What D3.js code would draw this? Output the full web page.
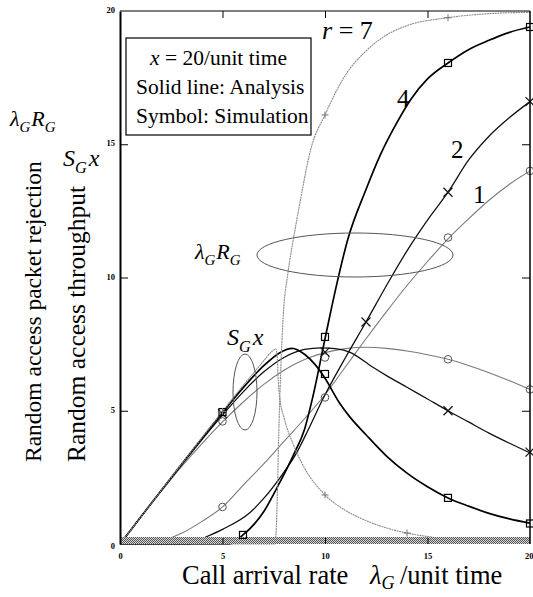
<!DOCTYPE html>
<html><head><meta charset="utf-8">
<script src="https://cdn.jsdelivr.net/npm/d3@7"></script>
<style>
html,body{margin:0;padding:0;background:#fff;}
svg{display:block;}
text{font-family:"Liberation Serif","Times New Roman",serif;fill:#000;}
</style></head>
<body>
<svg id="chart" width="533" height="597"></svg>
<script>
// ---- data (λ_G, value) ----
const lambdaTicks = [0, 5, 10, 15, 20];
const valueTicks = [0, 5, 10, 15, 20];
const rValues = [1, 2, 4, 7];

// throughput S_G x (analysis)
const thrR1 = [[0,0],[1,0.99],[2,1.96],[3,2.9],[4,3.77],[5,4.58],[6,5.32],[7,5.98],[8,6.52],[9,6.92],[10,7.18],[11,7.33],[12,7.38],[13,7.34],[14,7.24],[15,7.1],[16,6.93],[17,6.7],[18,6.43],[19,6.13],[20,5.8]];
const thrR2 = [[0,0],[1,1],[2,1.99],[3,2.96],[4,3.92],[5,4.84],[6,5.7],[7,6.45],[8,7.0],[9,7.3],[9.8,7.36],[10.5,7.33],[11.2,7.2],[12.3,6.65],[13,6.32],[14,5.88],[15,5.44],[16,5.0],[17,4.58],[18,4.16],[19,3.78],[20,3.42]];
const thrR4 = [[0,0],[1,1],[2,2],[3,2.99],[4,3.97],[5,4.93],[6,5.86],[7,6.68],[7.8,7.18],[8.4,7.34],[9,7.12],[9.5,6.75],[10,6.22],[10.7,5.3],[11.2,4.78],[12,4.1],[13,3.3],[14,2.66],[15,2.15],[16,1.73],[17,1.42],[18,1.15],[19,0.94],[20,0.78]];
const thrR7 = [[0,0],[1,1],[2,2],[3,3],[4,3.99],[5,4.97],[6,5.94],[7,6.86],[7.4,7.22],[7.6,7.32],[7.67,7.0],[7.72,6.1],[7.8,5.45],[8,4.75],[8.5,3.65],[9,2.85],[10,1.84],[11,1.26],[12,0.88],[13,0.6],[14,0.41],[15,0.28],[16,0.19],[17,0.12],[18,0.07],[19,0.04],[20,0.02]];

// rejection λ_G R_G (analysis)
const rejR1 = [[0,0],[1.4,0],[2,0.1],[3,0.4],[4,0.85],[5,1.39],[6,2.2],[7,3.0],[8,3.85],[9,4.7],[10,5.6],[11,6.65],[12,7.7],[13,8.72],[14,9.7],[15,10.6],[16,11.45],[17,12.2],[18,12.9],[19,13.5],[20,14.0]];
const rejR2 = [[0,0],[3.4,0],[4,0.2],[5,0.55],[6.3,1.15],[7,1.7],[8,2.7],[8.6,3.4],[9,4.0],[10,5.6],[11,7.0],[12,8.33],[13,9.7],[14,11.0],[15,12.15],[16,13.2],[17,14.4],[18,15.3],[19,16.0],[20,16.6]];
const rejR4 = [[0,0],[5.3,0],[6,0.34],[7,1.2],[7.65,2.1],[8.5,3.4],[9,4.3],[9.4,5.5],[10,7.7],[10.5,9.5],[11.1,11.4],[12,13.3],[12.7,14.6],[13.5,15.8],[14.2,16.7],[15,17.45],[16,18.05],[17,18.55],[18,18.9],[19,19.2],[20,19.4]];
const rejR7 = [[0,0],[7.55,0],[7.62,0.5],[7.68,2.0],[7.74,4.0],[7.84,6.5],[7.95,8.4],[8.2,10.2],[8.45,11.4],[8.8,12.9],[9.3,14.8],[10,16.1],[11,17.6],[12,18.5],[13,19.1],[14,19.45],[16,19.75],[18,19.9],[20,19.95]];

// simulation points
const simThrR1 = [[5,4.6],[10,7.0],[16,6.93],[20,5.8]];
const simRejR1 = [[5,1.39],[10,5.5],[16,11.5],[20,14.0]];
const simThrR2 = [[5,4.88],[10,7.2],[16,5.0],[20,3.45]];
const simRejR2 = [[12,8.33],[16,13.2],[20,16.6]];
const simThrR4 = [[5,4.95],[10,6.38],[16,1.73],[20,0.77]];
const simRejR4 = [[6,0.34],[10,7.77],[16,18.05],[20,19.4]];
const simThrR7 = [[5,4.98],[10,1.84],[14,0.41]];
const simRejR7 = [[10,16.1],[16,19.75]];

// ---- styles ----
const styles = {
  1: {stroke:"#7a7a7a", width:1.1, marker:"circle", mcolor:"#555"},
  2: {stroke:"#111", width:1.3, marker:"x", mcolor:"#111"},
  4: {stroke:"#000", width:1.7, marker:"square", mcolor:"#000"},
  7: {stroke:"#8c8c8c", width:1.1, marker:"plus", mcolor:"#777", dash:"2,0.6"}
};
const curves = {1:[thrR1,rejR1], 2:[thrR2,rejR2], 4:[thrR4,rejR4], 7:[thrR7,rejR7]};
const sims = {1:[simThrR1,simRejR1], 2:[simThrR2,simRejR2], 4:[simThrR4,simRejR4], 7:[simThrR7,simRejR7]};

const svg = d3.select("#chart");
const x = d3.scaleLinear().domain([0,20]).range([120,530]);
const y = d3.scaleLinear().domain([0,20]).range([544,11]);

// hatched band pattern
const defs = svg.append("defs");
const pat = defs.append("pattern").attr("id","hatch").attr("width",2).attr("height",2).attr("patternUnits","userSpaceOnUse");
pat.append("rect").attr("width",2).attr("height",2).attr("fill","#d8d8d8");
pat.append("rect").attr("width",1).attr("height",1).attr("fill","#555");
pat.append("rect").attr("x",1).attr("y",1).attr("width",1).attr("height",1).attr("fill","#555");
defs.append("clipPath").attr("id","plotclip").append("rect")
  .attr("x",x(0)).attr("y",y(20)).attr("width",x(20)-x(0)).attr("height",y(0)-y(20)+1);

// curves
const line = d3.line().x(d=>x(d[0])).y(d=>y(d[1])).curve(d3.curveMonotoneX);
const gCurves = svg.append("g").attr("clip-path","url(#plotclip)");
rValues.forEach(r=>{
  const s = styles[r];
  curves[r].forEach(c=>{
    gCurves.append("path").datum(c).attr("d",line).attr("fill","none")
      .attr("stroke",s.stroke).attr("stroke-width",s.width)
      .attr("stroke-dasharray",s.dash||null);
  });
});

// band at bottom
svg.append("rect").attr("x",x(0)).attr("y",y(0)-7).attr("width",x(20)-x(0)).attr("height",7).attr("fill","url(#hatch)");

// markers
const gMark = svg.append("g");
rValues.forEach(r=>{
  const s = styles[r];
  sims[r].forEach(set=>{
    set.forEach(d=>{
      const cx = x(d[0]), cy = y(d[1]);
      if (s.marker==="circle") {
        gMark.append("circle").attr("cx",cx).attr("cy",cy).attr("r",3.8).attr("fill","none").attr("stroke",s.mcolor).attr("stroke-width",1);
      } else if (s.marker==="square") {
        gMark.append("rect").attr("x",cx-3.5).attr("y",cy-3.5).attr("width",7).attr("height",7).attr("fill","none").attr("stroke",s.mcolor).attr("stroke-width",1.2);
      } else if (s.marker==="x") {
        gMark.append("path").attr("d",`M${cx-4.5},${cy-4.5}L${cx+4.5},${cy+4.5}M${cx-4.5},${cy+4.5}L${cx+4.5},${cy-4.5}`).attr("stroke",s.mcolor).attr("stroke-width",1.2);
      } else {
        gMark.append("path").attr("d",`M${cx-3.5},${cy}L${cx+3.5},${cy}M${cx},${cy-3.5}L${cx},${cy+3.5}`).attr("stroke",s.mcolor).attr("stroke-width",1);
      }
    });
  });
});

// frame
svg.append("line").attr("x1",x(0)).attr("x2",x(20)).attr("y1",y(20)).attr("y2",y(20)).attr("stroke","#000").attr("stroke-width",1);
svg.append("line").attr("x1",x(20)).attr("x2",x(20)).attr("y1",y(20)).attr("y2",y(0)).attr("stroke","#000").attr("stroke-width",1.5);

// axes
const tickFont = g=>g.selectAll("text").style("font-family","'Liberation Serif',serif").style("font-size","8.5px").style("font-weight","bold");
const axL = svg.append("g").attr("transform",`translate(${x(0)},0)`)
  .call(d3.axisLeft(y).tickValues(valueTicks).tickSizeInner(-8).tickSizeOuter(0).tickPadding(5).tickFormat(d3.format("d")));
axL.select(".domain").attr("stroke-width",2);
axL.call(tickFont);
axL.selectAll(".tick line").filter(d=>d===0||d===20).remove();
axL.selectAll(".tick text").attr("dy",d=> d===0 ? "0.55em" : "0.2em");

const axB = svg.append("g").attr("transform",`translate(0,${y(0)})`)
  .call(d3.axisBottom(x).tickValues(lambdaTicks).tickSizeInner(-6).tickSizeOuter(0).tickPadding(9).tickFormat(d3.format("d")));
axB.select(".domain").remove();
axB.call(tickFont);
axB.selectAll(".tick line").filter(d=>d===0||d===20).remove();
axB.selectAll(".tick text").filter(d=>d===20).attr("text-anchor","end").attr("dx","3");

const axT = svg.append("g").attr("transform",`translate(0,${y(20)})`)
  .call(d3.axisTop(x).tickValues([5,10,15]).tickSizeInner(-7).tickSizeOuter(0).tickFormat(""));
axT.select(".domain").remove();
const axR = svg.append("g").attr("transform",`translate(${x(20)},0)`)
  .call(d3.axisRight(y).tickValues([5,10,15]).tickSizeInner(-8).tickSizeOuter(0).tickFormat(""));
axR.select(".domain").remove();

// helper: text with subscripts
function rich(parent, xx, yy, parts, size, opts={}) {
  const t = parent.append("text").attr("x",xx).attr("y",yy).style("font-size",size+"px");
  if (opts.anchor) t.attr("text-anchor",opts.anchor);
  const subShift = opts.subShift !== undefined ? opts.subShift : 0.28;
  parts.forEach(p=>{
    const ts = t.append("tspan").text(p.t);
    if (p.i) ts.style("font-style","italic");
    if (p.sub) ts.style("font-size",(size*0.68)+"px").attr("dy",size*subShift);
    if (p.up) ts.attr("dy",-size*subShift);
    if (p.dx) ts.attr("dx",p.dx);
    if (p.x !== undefined) ts.attr("x",p.x);
  });
  return t;
}

// axis titles
rich(svg, 182, 584, [{t:"Call arrival rate"},{t:"λ",i:1,x:370},{t:"G",i:1,sub:1},{t:"/unit time",up:1,x:400}], 26.5, {subShift:0.2});
svg.append("text").attr("transform","translate(41,462) rotate(-90)").style("font-size","23.5px").text("Random access packet rejection");
svg.append("text").attr("transform","translate(85,462) rotate(-90)").style("font-size","25.5px").text("Random access throughput");

// left formula labels
rich(svg, 10, 126, [{t:"λ",i:1},{t:"G",i:1,sub:1},{t:"R",i:1,up:1,dx:1},{t:"G",i:1,sub:1}], 22);
rich(svg, 63, 166, [{t:"S",i:1},{t:"G",i:1,sub:1},{t:"x",i:1,up:1,dx:2}], 24);

// legend box
svg.append("rect").attr("x",126).attr("y",38).attr("width",185).attr("height",97).attr("fill","#fff").attr("stroke","#000").attr("stroke-width",1.2);
rich(svg, 150, 65, [{t:"x",i:1},{t:" = 20/unit time"}], 21.5);
svg.append("text").attr("x",136).attr("y",94).style("font-size","21.5px").text("Solid line: Analysis");
svg.append("text").attr("x",136).attr("y",123).style("font-size","21.5px").text("Symbol: Simulation");

// curve labels
rich(svg, 322, 39, [{t:"r",i:1},{t:" = 7"}], 26);
svg.append("text").attr("x",397).attr("y",107).style("font-size","25px").text("4");
svg.append("text").attr("x",451).attr("y",158).style("font-size","25px").text("2");
svg.append("text").attr("x",473).attr("y",203).style("font-size","25px").text("1");

// group labels with ellipses
rich(svg, 195, 259, [{t:"λ",i:1},{t:"G",i:1,sub:1},{t:"R",i:1,up:1,dx:1},{t:"G",i:1,sub:1}], 22);
svg.append("ellipse").attr("cx",355).attr("cy",255).attr("rx",98).attr("ry",22).attr("fill","none").attr("stroke","#555").attr("stroke-width",1);
rich(svg, 227, 345, [{t:"S",i:1},{t:"G",i:1,sub:1},{t:"x",i:1,up:1,dx:2}], 24);
svg.append("ellipse").attr("cx",245).attr("cy",392).attr("rx",12).attr("ry",38).attr("fill","none").attr("stroke","#555").attr("stroke-width",1);
</script>
</body></html>
